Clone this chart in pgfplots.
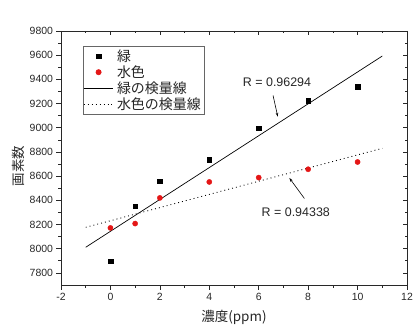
\documentclass[border=0pt]{standalone}
\usepackage{pgfplots}
\pgfplotsset{compat=1.18}
\usepackage{fontspec}
\setmainfont{Liberation Sans}
\newfontfamily\cjk{Noto Sans CJK JP}
\usetikzlibrary{arrows.meta}
\definecolor{myred}{RGB}{228,22,22}
\definecolor{frame}{RGB}{40,40,40}
\pgfplotsset{markleg/.style={legend image code/.code={\draw[##1] plot coordinates {(15bp,0)};}}}
\begin{document}
\begin{tikzpicture}
\path[use as bounding box] (0,0) rectangle (420bp,334bp);
\pgfplotsset{
  common/.style={
    at={(61bp,49bp)}, anchor=south west,
    scale only axis, width=346bp, height=254bp,
    xmin=-2, xmax=12, ymin=7700, ymax=9800,
    xtick={-2,0,...,12}, ytick={7800,8000,...,9800},
    minor x tick num=1, minor y tick num=1,
    axis line style={frame, line width=0.9pt},
    major tick length=4.5bp, minor tick length=2.5bp,
    every tick/.style={frame, line width=0.7pt},
  }
}
\begin{axis}[common,
  xtick pos=lower, ytick pos=left, tick align=outside,
  /pgf/number format/assume math mode=true,
  /pgf/number format/set thousands separator={},
  tick label style={font=\fontsize{10.5}{12}\selectfont, text=black!85},
  xlabel={\cjk 濃度(ppm)}, ylabel={\cjk 画素数},
  label style={font=\fontsize{13.5}{15}\selectfont, text=black!85},
  xlabel style={yshift=-3bp},
  ylabel style={yshift=-2bp, xshift=-8bp},
  legend style={at={(0.063,0.94)}, anchor=north west, draw=black!60, line width=0.7pt,
    font=\fontsize{14}{15.9}\selectfont\cjk, text=black!85, inner xsep=0bp, inner ysep=1bp,
    row sep=-1.2bp, cells={anchor=west},
    nodes={inner xsep=4bp}},
  legend cell align=left,
]
\addplot[only marks, mark=square*, mark size=2.3bp, black, markleg] coordinates {
  (0,7897) (1,8351) (2,8558) (4,8734) (6,8996) (8,9225) (10,9340)};
\addlegendentry{緑}
\addplot[only marks, mark=*, mark size=2.6bp, myred, mark options={fill=myred, draw=myred}, markleg] coordinates {
  (0,8172) (1,8208) (2,8420) (4,8552) (6,8588) (8,8657) (10,8717)};
\addlegendentry{水色}
\addplot[black, line width=0.7pt, legend image code/.code={\draw[black, line width=0.7pt] (0,0) -- (29bp,0);}] coordinates {(-1,8012) (11,9593)};
\addlegendentry{緑の検量線}
\addplot[black, line width=0.9pt, dash pattern=on 0.9pt off 3.1pt, legend image code/.code={\draw[black, line width=0.9pt, dash pattern=on 0.9pt off 3.1pt] (0,0) -- (29bp,0);}] coordinates {(-1,8177) (11,8830)};
\addlegendentry{水色の検量線}
\node[font=\fontsize{12.5}{14}\selectfont, text=black!85] at (axis cs:6.74,9376) {R = 0.96294};
\draw[-{Stealth[length=4bp,width=2.5bp]}, black, line width=0.6pt] (axis cs:6.58,9268) -- (axis cs:6.77,9092);
\node[font=\fontsize{12.5}{14}\selectfont, text=black!85] at (axis cs:7.5,8304) {R = 0.94338};
\draw[-{Stealth[length=4bp,width=2.5bp]}, black, line width=0.6pt] (axis cs:7.85,8415) -- (axis cs:7.24,8585);
\end{axis}
\begin{axis}[common,
  xtick pos=upper, ytick pos=right, tick align=inside,
  xticklabels={}, yticklabels={},
  axis line style={draw=none},
]
\addplot[draw=none] coordinates {(0,8000)};
\end{axis}
\end{tikzpicture}
\end{document}
